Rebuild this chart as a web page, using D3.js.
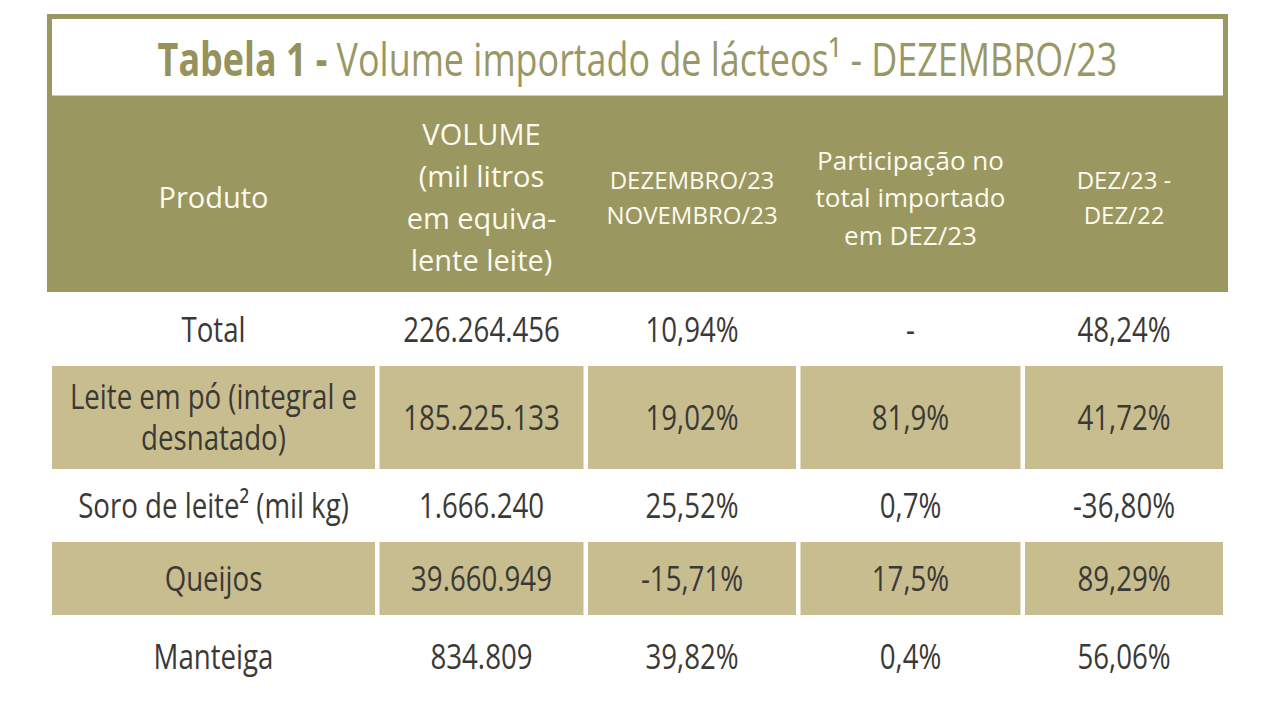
<!DOCTYPE html>
<html>
<head>
<meta charset="utf-8">
<script src="https://cdn.jsdelivr.net/npm/d3@7"></script>
<style>
  body { margin: 0; background: #fff; }
  text { font-family: "Open Sans", "Noto Sans", sans-serif; }
</style>
</head>
<body>
<div id="tabela"></div>
<script>
// table content
var titulo = ["Tabela 1 -", " Volume importado de lácteos¹ - DEZEMBRO/23"];
var cabecalho = [
  ["Produto"],
  ["VOLUME", "(mil litros", "em equiva-", "lente leite)"],
  ["DEZEMBRO/23", "NOVEMBRO/23"],
  ["Participação no", "total importado", "em DEZ/23"],
  ["DEZ/23 -", "DEZ/22"]
];
var produtos = [
  ["Total"],
  ["Leite em pó (integral e", "desnatado)"],
  ["Soro de leite² (mil kg)"],
  ["Queijos"],
  ["Manteiga"]
];
var volume = ["226.264.456", "185.225.133", "1.666.240", "39.660.949", "834.809"];
var varMensal = ["10,94%", "19,02%", "25,52%", "-15,71%", "39,82%"];
var participacao = ["-", "81,9%", "0,7%", "17,5%", "0,4%"];
var varAnual = ["48,24%", "41,72%", "-36,80%", "89,29%", "56,06%"];

// layout
var width = 1280, height = 720;
var left = 47, right = 1228;
var titleTop = 14, headTop = 98, headBottom = 292, bodyTop = 293;
var colWidths = [323, 204, 208, 220, 198], gap = 4.5;
var headSizes = [29, 29, 24, 26, 24];
var olive = "#9a9760", tan = "#c8bd8f", ink = "#3b3935";

var svg = d3.select("#tabela")
  .append("svg")
    .attr("width", width)
    .attr("height", height);

// column edges
var colX = [];
var acc = 52;
colWidths.forEach(function(w) { colX.push(acc); acc += w + gap; });
function colCenter(i) { return colX[i] + colWidths[i] / 2; }

// condensed text helper
function label(g, lines, cx, cy, size, sx, lh, fill, weight) {
  var cap = size * 0.714;
  var first = cy + cap / 2 - (lines.length - 1) * lh / 2;
  lines.forEach(function(t, k) {
    g.append("text")
      .attr("transform", "translate(" + cx + "," + (first + k * lh) + ") scale(" + sx + ",1)")
      .attr("text-anchor", "middle")
      .style("font-size", size + "px")
      .style("font-weight", weight || 400)
      .style("fill", fill)
      .text(t);
  });
}

// title box
svg.append("rect")
  .attr("x", left + 2.5).attr("y", titleTop + 2.5)
  .attr("width", right - left - 5).attr("height", headTop - titleTop - 2.5)
  .attr("fill", "#fff")
  .attr("stroke", olive).attr("stroke-width", 5);

var tt = svg.append("text")
  .attr("transform", "translate(" + (left + right) / 2 + ",76) scale(0.78,1)")
  .attr("text-anchor", "middle")
  .style("font-size", "46px")
  .style("fill", "#9a9766");
tt.append("tspan").style("font-weight", 700).style("fill", "#95925c").text(titulo[0]);
tt.append("tspan").text(titulo[1]);

// header
svg.append("rect")
  .attr("x", left).attr("y", headTop)
  .attr("width", right - left).attr("height", headBottom - headTop)
  .attr("fill", olive);

var head = svg.append("g");
cabecalho.forEach(function(lines, i) {
  label(head, lines, colCenter(i), 198, headSizes[i], 1, headSizes[i] * 1.45, "#fdfbf0");
});

// body rows
var rows = produtos.map(function(p, i) {
  return [p, [volume[i]], [varMensal[i]], [participacao[i]], [varAnual[i]]];
});
var rowY = [];
var y0 = bodyTop;
produtos.forEach(function(p, i) {
  var h = p.length > 1 ? 103 : 73;
  if (i === produtos.length - 1) h = 84; // last row has extra bottom room
  rowY.push({y: y0, h: h});
  y0 += h;
});

var body = svg.append("g");
rows.forEach(function(cells, r) {
  var ry = rowY[r];
  cells.forEach(function(lines, c) {
    if (r % 2 === 1) {
      body.append("rect")
        .attr("x", colX[c]).attr("y", ry.y)
        .attr("width", colWidths[c]).attr("height", ry.h)
        .attr("fill", tan);
    }
    label(body, lines, colCenter(c), ry.y + ry.h / 2, 35, 0.79, 41, ink);
  });
});
</script>
</body>
</html>
